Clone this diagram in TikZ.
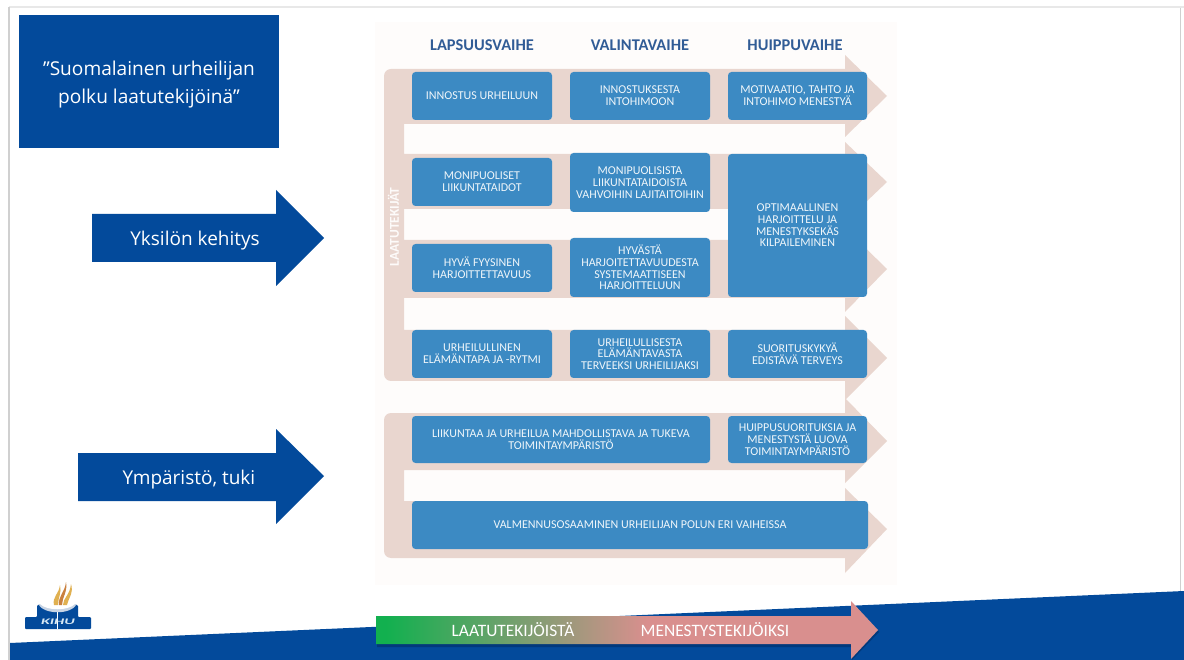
\documentclass[tikz,border=0pt]{standalone}
\usepackage{fontspec}
\setmainfont{Carlito}
\newfontfamily\headfont{Open Sans}
\definecolor{slideblue}{HTML}{034A9B}
\definecolor{deepblue}{HTML}{02397C}
\definecolor{boxblue}{HTML}{3C8AC3}
\definecolor{band}{HTML}{E9D6CF}
\definecolor{panelbg}{HTML}{FEFCFB}
\definecolor{headcol}{HTML}{315C96}
\definecolor{framegray}{HTML}{D0D0D0}
\definecolor{framelight}{HTML}{E8E8E8}
\definecolor{gradgreen}{HTML}{12B04F}
\definecolor{gradpink}{HTML}{D98F8E}
\definecolor{flamegold}{HTML}{E0B050}
\definecolor{flameorange}{HTML}{C9803F}
\definecolor{bowlgray}{HTML}{C8D4E4}
\pgfdeclarehorizontalshading{tekijashade}{100bp}{color(0bp)=(gradgreen);color(26bp)=(gradgreen);color(52bp)=(gradpink);color(100bp)=(gradpink)}
\tikzset{
  tile/.style={fill=boxblue,draw=none,rounded corners=3.5pt,inner sep=1pt,align=center,text=white!92!boxblue,font=\fontsize{12}{11.7}\selectfont},
  colhead/.style={text=headcol,font=\fontsize{16.4}{17}\selectfont\bfseries,inner sep=0pt},
  bandfill/.style={fill=band,draw=none},
  bluearrow/.style={fill=slideblue,draw=none},
  arrowlabel/.style={text=white,font=\headfont\fontsize{19}{21}\selectfont,inner sep=0pt},
  barlabel/.style={text=white,font=\fontsize{17.4}{19}\selectfont,inner sep=0pt},
}
\newcommand{\tile}[6]{\path[tile] (#2,#3) rectangle (#4,#5); \node[tile,fill=none] (#1) at ({(#2+#4)/2},{(#3+#5)/2}) {#6};}
\begin{document}
\begin{tikzpicture}[x=1pt,y=-1pt]
\useasboundingbox (0,0) rectangle (1184,660);
\fill[white] (0,0) rectangle (1184,660);
% slide frame
\draw[framelight,line width=2pt] (9,7) -- (1184,7);
\draw[framegray,line width=1.4pt] (9,660) -- (9,7);
\draw[framegray,line width=1pt] (1180,8) -- (1180,593);
% panel
\fill[panelbg] (375,22) rectangle (897,585);
% upper band
\path[bandfill] (845,69) -- (845,55) -- (887,96) -- (845,137) -- (845,124) -- (404,124)
 -- (404,154) -- (845,154) -- (845,142) -- (887,182) -- (845,222) -- (845,209) -- (404,209)
 -- (404,240) -- (845,240) -- (845,228) -- (887,269) -- (845,312) -- (845,298) -- (404,298)
 -- (404,330) -- (845,330) -- (845,316) -- (887,358) -- (845,400) -- (845,381)
 [rounded corners=7pt] -- (384,381) -- (384,69) [sharp corners] -- cycle;
% lower band
\path[bandfill] (845,413) -- (845,398) -- (887,441) -- (845,483) -- (845,470) -- (404,470)
 -- (404,501) -- (845,501) -- (845,488) -- (887,529) -- (845,573) -- (845,558)
 [rounded corners=7pt] -- (384,558) -- (384,413) [sharp corners] -- cycle;
\node[rotate=90,text=white!90!band,font=\fontsize{13.5}{14}\selectfont\bfseries,inner sep=0pt] (laatu) at (393.5,227) {LAATUTEKIJÄT};
% headers
\node[colhead] (h1) at (482,45) {LAPSUUSVAIHE};
\node[colhead] (h2) at (640,45) {VALINTAVAIHE};
\node[colhead] (h3) at (795,45) {HUIPPUVAIHE};
% tiles
\tile{a1}{412}{72}{552}{120}{INNOSTUS URHEILUUN}
\tile{a2}{570}{72}{710}{120}{INNOSTUKSESTA\\INTOHIMOON}
\tile{a3}{728}{72}{867}{120}{MOTIVAATIO, TAHTO JA\\INTOHIMO MENESTYÄ}
\tile{b1}{412}{158}{552}{206}{MONIPUOLISET\\LIIKUNTATAIDOT}
\tile{b2}{570}{153}{710}{212}{MONIPUOLISISTA\\LIIKUNTATAIDOISTA\\VAHVOIHIN LAJITAITOIHIN}
\tile{b3}{728}{154}{867}{297}{OPTIMAALLINEN\\HARJOITTELU JA\\MENESTYKSEKÄS\\KILPAILEMINEN}
\tile{c1}{412}{244}{552}{292}{HYVÄ FYYSINEN\\HARJOITTETTAVUUS}
\tile{c2}{570}{238}{710}{297}{HYVÄSTÄ\\HARJOITETTAVUUDESTA\\SYSTEMAATTISEEN\\HARJOITTELUUN}
\tile{d1}{412}{330}{552}{378}{URHEILULLINEN\\ELÄMÄNTAPA JA -RYTMI}
\tile{d2}{570}{330}{710}{378}{URHEILULLISESTA\\ELÄMÄNTAVASTA\\TERVEEKSI URHEILIJAKSI}
\tile{d3}{728}{330}{867}{378}{SUORITUSKYKYÄ\\EDISTÄVÄ TERVEYS}
\tile{e1}{412}{416}{710}{463}{LIIKUNTAA JA URHEILUA MAHDOLLISTAVA JA TUKEVA\\TOIMINTAYMPÄRISTÖ}
\tile{e3}{728}{416}{867}{463}{HUIPPUSUORITUKSIA JA\\MENESTYSTÄ LUOVA\\TOIMINTAYMPÄRISTÖ}
\tile{f1}{412}{501}{868}{549}{VALMENNUSOSAAMINEN URHEILIJAN POLUN ERI VAIHEISSA}
% title box
\fill[slideblue] (19,15) rectangle (279,148);
\node[text=white,align=center,font=\headfont\fontsize{19.1}{28}\selectfont,inner sep=0pt] (title) at (149,85) {”Suomalainen urheilijan\\polku laatutekijöinä”};
% left arrows
\path[bluearrow] (92,214) -- (276,214) -- (276,190) -- (324,238) -- (276,286) -- (276,262) -- (92,262) -- cycle;
\node[arrowlabel] (yk) at (195,241) {Yksilön kehitys};
\path[bluearrow] (78,453) -- (276,453) -- (276,429) -- (324,476) -- (276,524) -- (276,501) -- (78,501) -- cycle;
\node[arrowlabel] (ym) at (189,480) {Ympäristö, tuki};
% bottom wedge
\fill[slideblue] (10,643) -- (1184,591) -- (1184,660) -- (10,660) -- cycle;
% gradient arrow
\fill[deepblue] (377,618) -- (852,618) -- (852,603) -- (879,632) -- (852,660) -- (852,647) -- (377,647) -- cycle;
\path[shading=tekijashade] (376,616) -- (851,616) -- (851,601) -- (878,630) -- (851,659) -- (851,644) -- (376,644) -- cycle;
\node[barlabel] (l1) at (513,630) {LAATUTEKIJÖISTÄ};
\node[barlabel] (l2) at (715,630) {MENESTYSTEKIJÖIKSI};
% logo
\fill[slideblue,rounded corners=1pt] (25,629) -- (25,617) -- (37,617) -- (37,605) -- (78,605) -- (78,617) -- (91,617) -- (91,629) -- cycle;
\fill[bowlgray] (38,604) .. controls (44,615) and (71,615) .. (77,604) -- cycle;
\fill[white] (40,604) .. controls (47,611) and (68,611) .. (75,604) -- cycle;
\draw[white,line width=0.7pt] (57.5,612) -- (57.5,629);
\fill[flamegold] (54,605) .. controls (52,597) and (59,594) .. (60,585) .. controls (62,592) and (58,598) .. (58,605) -- cycle;
\fill[flameorange] (59,605) .. controls (58,596) and (65,592) .. (66,582) .. controls (68,591) and (62,598) .. (62,605) -- cycle;
\fill[flamegold] (63,605) .. controls (63,598) and (70,595) .. (71,584) .. controls (74,593) and (68,599) .. (67,605) -- cycle;
\node[text=white!80!boxblue,font=\fontsize{8.5}{9}\selectfont\bfseries\itshape,inner sep=0pt,xscale=1.9,transform shape] (kihu) at (58,622) {KIHU};
\end{tikzpicture}
\end{document}
